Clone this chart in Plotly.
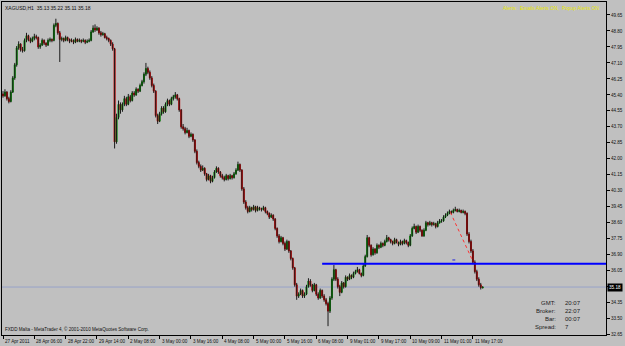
import plotly.graph_objects as go

symbol_info = "XAGUSD,H1  35.13 35.22 35.11 35.18"
alert_text = "Alerts:  Emails Alerts ON,  Popup Alerts ON"
copyright_text = "FXDD Malta - MetaTrader 4, \u00a9 2001-2010 MetaQuotes Software Corp."

opens = [45.45, 45.35, 45.55, 45.20, 45.05, 45.55, 46.30, 47.00, 47.90, 48.10,
         47.80, 47.75, 48.30, 48.55, 48.35, 48.25, 48.40, 48.50, 48.45, 47.95,
         48.05, 48.30, 48.15, 48.05, 48.30, 48.35, 48.30, 49.10, 49.20, 48.70,
         48.35, 48.40, 48.30, 48.45, 48.35, 48.25, 48.30, 48.20, 48.35, 48.25,
         48.30, 48.25, 48.30, 48.20, 48.25, 48.30, 48.75, 48.95, 48.85, 48.95,
         48.70, 48.60, 48.65, 48.45, 48.40, 48.30, 48.10, 47.85, 42.90, 44.20,
         44.90, 44.60, 44.90, 45.20, 44.90, 45.30, 45.10, 45.50, 45.40, 45.70,
         45.60, 45.90, 46.10, 46.50, 46.80, 46.60, 46.30, 45.90, 45.60, 44.30,
         44.00, 44.40, 44.70, 44.50, 44.90, 45.10, 44.90, 45.20, 45.30, 45.40,
         45.20, 44.60, 43.70, 43.60, 43.40, 43.50, 43.20, 43.30, 43.00, 42.40,
         41.80, 41.60, 41.40, 41.50, 41.20, 40.90, 41.10, 40.80, 41.00, 41.30,
         41.50, 41.30, 41.10, 41.00, 40.90, 41.10, 40.95, 41.10, 41.00, 41.20,
         41.40, 41.70, 41.40, 40.40, 39.70, 39.40, 39.20, 39.40, 39.30, 39.45,
         39.25, 39.40, 39.35, 39.30, 39.40, 39.20, 39.10, 38.90, 39.00, 38.80,
         38.30, 37.90, 37.60, 37.80, 37.50, 37.20, 37.60, 37.10, 36.70, 36.20,
         35.30, 34.70, 34.80, 35.00, 34.70, 34.80, 35.20, 35.50, 35.30, 35.00,
         35.30, 34.80, 34.60, 35.00, 34.70, 34.50, 34.30, 33.90, 34.60, 35.60,
         36.10, 35.60, 35.20, 34.90, 35.40, 35.20, 35.70, 35.60, 35.80, 35.70,
         35.90, 36.00, 36.10, 35.90, 35.80, 36.30, 36.80, 37.80, 37.40, 36.90,
         37.20, 37.00, 37.40, 37.30, 37.50, 37.40, 37.60, 37.80, 37.70, 37.60,
         37.50, 37.70, 37.55, 37.45, 37.60, 37.50, 37.65, 37.55, 37.40, 37.90,
         38.30, 38.40, 38.10, 38.40, 38.20, 37.90, 38.20, 38.60, 38.50, 38.60,
         38.50, 38.55, 38.40, 38.60, 38.70, 38.70, 38.90, 39.00, 39.10, 39.20,
         39.15, 39.25, 39.30, 39.20, 39.25, 39.15, 39.20, 39.10, 38.00, 37.60,
         37.10, 36.50, 36.00, 35.60, 35.30, 35.13]
highs = [45.60, 45.70, 45.60, 45.30, 45.65, 46.40, 47.10, 48.00, 48.25, 48.15,
         47.95, 48.40, 48.70, 48.60, 48.45, 48.50, 48.65, 48.60, 48.50, 48.15,
         48.40, 48.35, 48.20, 48.40, 48.45, 48.40, 49.20, 49.45, 49.25, 48.80,
         48.50, 48.45, 48.55, 48.50, 48.40, 48.40, 48.35, 48.45, 48.40, 48.40,
         48.35, 48.40, 48.35, 48.35, 48.40, 48.85, 49.10, 49.15, 49.05, 49.00,
         48.80, 48.75, 48.70, 48.55, 48.45, 48.35, 48.20, 47.90, 44.40, 45.10,
         45.00, 45.00, 45.35, 45.30, 45.45, 45.40, 45.60, 45.60, 45.80, 45.75,
         46.00, 46.20, 46.60, 47.10, 46.90, 46.70, 46.40, 46.00, 45.65, 44.40,
         44.50, 44.80, 44.80, 45.00, 45.20, 45.15, 45.30, 45.40, 45.55, 45.45,
         45.25, 44.65, 43.85, 43.70, 43.65, 43.55, 43.40, 43.35, 43.05, 42.50,
         41.90, 41.70, 41.65, 41.55, 41.25, 41.20, 41.15, 41.10, 41.40, 41.60,
         41.55, 41.35, 41.20, 41.10, 41.20, 41.15, 41.20, 41.15, 41.30, 41.50,
         41.85, 41.75, 41.45, 40.50, 39.80, 39.50, 39.50, 39.45, 39.55, 39.50,
         39.50, 39.45, 39.40, 39.50, 39.45, 39.25, 39.15, 39.10, 39.05, 38.85,
         38.35, 38.00, 37.90, 37.85, 37.60, 37.70, 37.65, 37.15, 36.75, 36.25,
         35.40, 34.90, 35.10, 35.05, 34.90, 35.30, 35.65, 35.60, 35.35, 35.40,
         35.35, 34.90, 35.10, 35.05, 34.80, 34.60, 34.40, 34.70, 35.70, 36.35,
         36.15, 35.70, 35.30, 35.50, 35.45, 35.80, 35.75, 35.90, 35.85, 36.00,
         36.10, 36.25, 36.15, 35.95, 36.40, 36.90, 37.95, 37.85, 37.45, 37.30,
         37.25, 37.50, 37.45, 37.60, 37.55, 37.70, 37.95, 37.85, 37.75, 37.65,
         37.80, 37.75, 37.60, 37.70, 37.65, 37.75, 37.70, 37.60, 38.00, 38.40,
         38.55, 38.45, 38.50, 38.45, 38.25, 38.30, 38.70, 38.65, 38.70, 38.65,
         38.65, 38.60, 38.70, 38.80, 38.80, 39.00, 39.10, 39.20, 39.30, 39.25,
         39.35, 39.45, 39.35, 39.35, 39.30, 39.30, 39.25, 39.15, 38.10, 37.70,
         37.20, 36.60, 36.10, 35.70, 35.40, 35.22]
lows = [45.25, 45.30, 45.10, 44.95, 45.00, 45.50, 46.20, 46.90, 47.80, 47.70,
        47.65, 47.70, 48.20, 48.25, 48.15, 48.20, 48.30, 48.35, 47.85, 47.85,
        48.00, 48.05, 47.95, 48.00, 48.20, 48.20, 48.25, 49.00, 48.60, 47.15,
        48.25, 48.20, 48.25, 48.25, 48.15, 48.20, 48.10, 48.15, 48.20, 48.20,
        48.15, 48.20, 48.10, 48.15, 48.20, 48.25, 48.70, 48.75, 48.80, 48.60,
        48.50, 48.55, 48.40, 48.30, 48.20, 48.00, 47.75, 42.55, 42.80, 44.10,
        44.40, 44.50, 44.80, 44.80, 44.85, 45.00, 45.05, 45.30, 45.35, 45.50,
        45.55, 45.85, 46.00, 46.40, 46.50, 46.20, 45.80, 45.50, 44.20, 43.85,
        43.95, 44.30, 44.40, 44.45, 44.80, 44.80, 44.85, 45.10, 45.20, 45.10,
        44.50, 43.60, 43.50, 43.30, 43.35, 43.10, 43.15, 42.90, 42.30, 41.70,
        41.50, 41.30, 41.35, 41.10, 40.80, 40.85, 40.70, 40.75, 40.95, 41.25,
        41.20, 41.00, 40.90, 40.80, 40.85, 40.85, 40.90, 40.90, 40.95, 41.15,
        41.35, 41.30, 40.30, 39.60, 39.30, 39.10, 39.15, 39.20, 39.25, 39.15,
        39.20, 39.25, 39.20, 39.25, 39.10, 39.00, 38.80, 38.85, 38.70, 38.20,
        37.80, 37.50, 37.55, 37.40, 37.10, 37.15, 37.00, 36.60, 36.10, 35.20,
        34.50, 34.60, 34.75, 34.60, 34.60, 34.75, 35.15, 35.20, 34.90, 34.95,
        34.70, 34.50, 34.55, 34.60, 34.40, 34.20, 33.10, 33.80, 34.50, 35.50,
        35.50, 35.10, 34.70, 34.85, 35.10, 35.15, 35.50, 35.55, 35.60, 35.65,
        35.85, 35.95, 35.85, 35.70, 35.75, 36.25, 36.75, 37.30, 36.80, 36.85,
        36.90, 36.95, 37.20, 37.25, 37.30, 37.35, 37.55, 37.60, 37.50, 37.40,
        37.45, 37.50, 37.35, 37.40, 37.40, 37.45, 37.45, 37.30, 37.35, 37.85,
        38.25, 38.00, 38.05, 38.10, 37.85, 37.85, 38.15, 38.40, 38.45, 38.40,
        38.45, 38.30, 38.35, 38.55, 38.60, 38.65, 38.85, 38.95, 39.05, 39.05,
        39.10, 39.20, 39.15, 39.15, 39.10, 39.10, 39.00, 37.90, 37.50, 37.00,
        36.40, 35.90, 35.50, 35.20, 35.05, 35.11]
closes = [45.35, 45.55, 45.20, 45.05, 45.55, 46.30, 47.00, 47.90, 48.10, 47.80,
          47.75, 48.30, 48.55, 48.35, 48.25, 48.40, 48.50, 48.45, 47.95, 48.05,
          48.30, 48.15, 48.05, 48.30, 48.35, 48.30, 49.10, 49.20, 48.70, 48.35,
          48.40, 48.30, 48.45, 48.35, 48.25, 48.30, 48.20, 48.35, 48.25, 48.30,
          48.25, 48.30, 48.20, 48.25, 48.30, 48.75, 48.95, 48.85, 48.95, 48.70,
          48.60, 48.65, 48.45, 48.40, 48.30, 48.10, 47.85, 42.90, 44.20, 44.90,
          44.60, 44.90, 45.20, 44.90, 45.30, 45.10, 45.50, 45.40, 45.70, 45.60,
          45.90, 46.10, 46.50, 46.80, 46.60, 46.30, 45.90, 45.60, 44.30, 44.00,
          44.40, 44.70, 44.50, 44.90, 45.10, 44.90, 45.20, 45.30, 45.40, 45.20,
          44.60, 43.70, 43.60, 43.40, 43.50, 43.20, 43.30, 43.00, 42.40, 41.80,
          41.60, 41.40, 41.50, 41.20, 40.90, 41.10, 40.80, 41.00, 41.30, 41.50,
          41.30, 41.10, 41.00, 40.90, 41.10, 40.95, 41.10, 41.00, 41.20, 41.40,
          41.70, 41.40, 40.40, 39.70, 39.40, 39.20, 39.40, 39.30, 39.45, 39.25,
          39.40, 39.35, 39.30, 39.40, 39.20, 39.10, 38.90, 39.00, 38.80, 38.30,
          37.90, 37.60, 37.80, 37.50, 37.20, 37.60, 37.10, 36.70, 36.20, 35.30,
          34.70, 34.80, 35.00, 34.70, 34.80, 35.20, 35.50, 35.30, 35.00, 35.30,
          34.80, 34.60, 35.00, 34.70, 34.50, 34.30, 33.90, 34.60, 35.60, 36.10,
          35.60, 35.20, 34.90, 35.40, 35.20, 35.70, 35.60, 35.80, 35.70, 35.90,
          36.00, 36.10, 35.90, 35.80, 36.30, 36.80, 37.80, 37.40, 36.90, 37.20,
          37.00, 37.40, 37.30, 37.50, 37.40, 37.60, 37.80, 37.70, 37.60, 37.50,
          37.70, 37.55, 37.45, 37.60, 37.50, 37.65, 37.55, 37.40, 37.90, 38.30,
          38.40, 38.10, 38.40, 38.20, 37.90, 38.20, 38.60, 38.50, 38.60, 38.50,
          38.55, 38.40, 38.60, 38.70, 38.70, 38.90, 39.00, 39.10, 39.20, 39.15,
          39.25, 39.30, 39.20, 39.25, 39.15, 39.20, 39.10, 38.00, 37.60, 37.10,
          36.50, 36.00, 35.60, 35.30, 35.15, 35.18]

time_tick_bars = [0, 16, 32, 48, 64, 80, 96, 112, 128, 144, 160, 176, 192, 208, 224, 240]
time_tick_labels = ["27 Apr 2011", "28 Apr 06:00", "28 Apr 22:00", "29 Apr 14:00",
                    "2 May 08:00", "3 May 00:00", "3 May 16:00", "4 May 08:00",
                    "5 May 00:00", "5 May 16:00", "6 May 08:00", "9 May 01:00",
                    "9 May 17:00", "10 May 09:00", "11 May 01:00", "11 May 17:00"]
price_ticks = [32.65, 33.50, 34.35, 35.20, 36.05, 36.90, 37.75, 38.60, 39.45, 40.30,
               41.15, 42.00, 42.85, 43.70, 44.55, 45.40, 46.25, 47.10, 47.95, 48.80, 49.65]

support_level = 36.42
support_start_bar = 163
trend_bars = [228.5, 240]
trend_prices = [39.15, 36.55]
marker_bars = [229.5, 231]
marker_price = 36.62

info_labels = ["GMT:", "Broker:", "Bar:", "Spread:"]
info_values = ["20:07", "22:07", "00:07", "7"]

BG = "#C0C0C0"
FONT = "Liberation Sans"
x_range = [-0.51, 307.97]

W, H = 625, 346
ML, MR, MT, MB = 2, 19, 2, 11
pw, ph = W - ML - MR, H - MT - MB

bar_index = list(range(len(closes)))
body_hi = [max(o, c) for o, c in zip(opens, closes)]
body_lo = [min(o, c) for o, c in zip(opens, closes)]

fig = go.Figure()
# wicks
fig.add_trace(go.Ohlc(
    x=bar_index, open=opens, high=highs, low=lows, close=closes,
    increasing=dict(line=dict(color="#1a1a1a", width=1)),
    decreasing=dict(line=dict(color="#1a1a1a", width=1)),
    tickwidth=0, hoverinfo="skip", showlegend=False))
# bodies
fig.add_trace(go.Candlestick(
    x=bar_index, open=opens, high=body_hi, low=body_lo, close=closes,
    increasing=dict(line=dict(color="#008C00", width=1), fillcolor="#008C00"),
    decreasing=dict(line=dict(color="#C80000", width=1), fillcolor="#C80000"),
    whiskerwidth=0, showlegend=False, hoverinfo="skip"))

# horizontal support line (blue)
fig.add_trace(go.Scatter(
    x=[support_start_bar, x_range[1]], y=[support_level, support_level],
    mode="lines", line=dict(color="#0000FF", width=2), showlegend=False, hoverinfo="skip"))
# red dotted trendline
fig.add_trace(go.Scatter(
    x=trend_bars, y=trend_prices, mode="lines",
    line=dict(color="#FF3030", width=1, dash="dot"), showlegend=False, hoverinfo="skip"))
# small blue marker dash
fig.add_trace(go.Scatter(
    x=marker_bars, y=[marker_price, marker_price], mode="lines",
    line=dict(color="#2020E0", width=1), showlegend=False, hoverinfo="skip"))

# bid line
fig.add_shape(type="line", xref="paper", x0=0, x1=1, yref="y",
              y0=closes[-1], y1=closes[-1], line=dict(color="#98A2C8", width=1), layer="below")


def px_x(xpix):
    return (xpix - ML) / pw


def px_y(ypix):
    return (H - MB - ypix) / ph


annotations = []
for b, lab in zip(time_tick_bars, time_tick_labels):
    annotations.append(dict(x=b, xref="x", y=0, yref="paper", text=lab, showarrow=False,
                            xanchor="left", yanchor="top", xshift=0, yshift=-2,
                            font=dict(family=FONT, size=4.6, color="#101010")))
annotations.append(dict(x=0, xref="paper", y=1, yref="paper", text=symbol_info, showarrow=False,
                        xanchor="left", yanchor="top", xshift=1, yshift=-1,
                        font=dict(family=FONT, size=5, color="#101010")))
annotations.append(dict(x=1, xref="paper", y=1, yref="paper", text=alert_text, showarrow=False,
                        xanchor="right", yanchor="top", xshift=-4, yshift=-1,
                        font=dict(family=FONT, size=5, color="#E8E800")))
annotations.append(dict(x=0, xref="paper", y=0, yref="paper", text=copyright_text, showarrow=False,
                        xanchor="left", yanchor="bottom", xshift=1, yshift=1,
                        font=dict(family=FONT, size=4.6, color="#101010")))
for k, (lab, val) in enumerate(zip(info_labels, info_values)):
    yy = 303 + k * 8
    annotations.append(dict(x=px_x(558), xref="paper", y=px_y(yy), yref="paper", text=lab,
                            showarrow=False, xanchor="right", yanchor="middle",
                            font=dict(family=FONT, size=6, color="#202020")))
    annotations.append(dict(x=px_x(563), xref="paper", y=px_y(yy), yref="paper", text=val,
                            showarrow=False, xanchor="left", yanchor="middle",
                            font=dict(family=FONT, size=6, color="#202020")))
# current price box
annotations.append(dict(x=1, xref="paper", y=closes[-1], yref="y", text=f"{closes[-1]:.2f}",
                        showarrow=False, xanchor="left", yanchor="middle", xshift=1,
                        bgcolor="#000000", borderpad=1,
                        font=dict(family=FONT, size=4.6, color="#FFFFFF")))

# the price box hides the nearest regular tick label
price_ticktext = ["" if abs(v - closes[-1]) < 0.3 else f"{v:.2f}" for v in price_ticks]

fig.update_layout(
    width=W, height=H,
    margin=dict(l=ML, r=MR, t=MT, b=MB, pad=0),
    paper_bgcolor=BG, plot_bgcolor=BG,
    font=dict(family=FONT, size=5, color="#101010"),
    showlegend=False,
    annotations=annotations,
    xaxis=dict(range=x_range, showgrid=False, zeroline=False, rangeslider=dict(visible=False),
               showline=True, mirror=True, linecolor="#000000", linewidth=1,
               tickvals=time_tick_bars, showticklabels=False, ticks="outside",
               ticklen=3, tickcolor="#000000", tickwidth=1, fixedrange=True),
    yaxis=dict(range=[32.63, 50.34], side="right", showgrid=False, zeroline=False,
               showline=True, mirror=True, linecolor="#000000", linewidth=1,
               tickvals=price_ticks, ticktext=price_ticktext,
               ticks="outside", ticklen=3, tickcolor="#000000", tickwidth=1,
               tickfont=dict(family=FONT, size=4.6, color="#101010"), fixedrange=True),
)

fig.write_html("out.html")
